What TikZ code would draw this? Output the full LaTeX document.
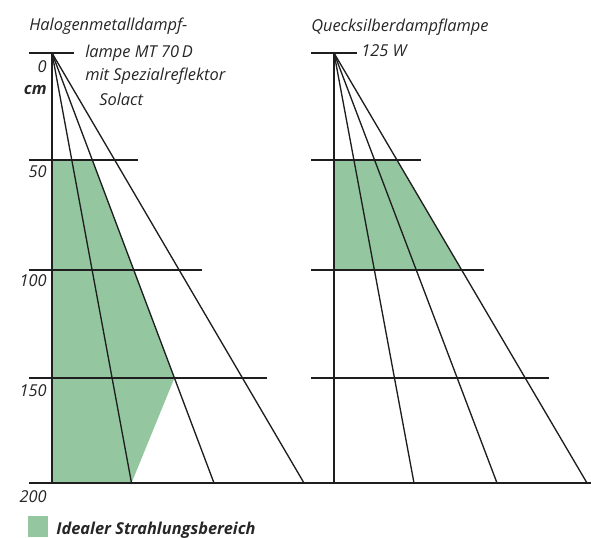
\documentclass[tikz,border=0pt]{standalone}
\usepackage{fontspec}
\setmainfont{Open Sans}
\usetikzlibrary{calc}
\definecolor{idealgreen}{RGB}{148,199,160}
\definecolor{linecol}{RGB}{30,30,30}
\tikzset{
  ln/.style={draw=linecol, line width=1pt},
  axis/.style={draw=linecol, line width=1.3pt},
  lbl/.style={font=\fontsize{12.3}{14}\selectfont\itshape, inner sep=0pt, text=black!85},
  num/.style={lbl, anchor=base east},
  zone/.style={fill=idealgreen, draw=none}
}
\begin{document}
\begin{tikzpicture}[x=0.75pt,y=-0.75pt]
\useasboundingbox (0,0) rectangle (591,537);
% ---------- coordinates left
\coordinate (LA) at (52,53);
\coordinate (LB0) at (52,483);
\coordinate (LB1) at (131.5,483);
\coordinate (LB2) at (214,483);
\coordinate (LB3) at (304,483);
% ---------- coordinates right
\coordinate (RA) at (334,53);
\coordinate (RB0) at (334,483);
\coordinate (RB1) at (414,483);
\coordinate (RB2) at (497,483);
\coordinate (RB3) at (587,483);
% ---------- green zones
\path[zone] (52,160) -- ($(LA)!0.2488!(LB2)$) -- ($(LA)!0.7558!(LB2)$) -- (LB1) -- (LB0) -- cycle;
\path[zone] (334,160) -- ($(RA)!0.2488!(RB3)$) -- ($(RA)!0.5047!(RB3)$) -- (334,270) -- cycle;
% ---------- horizontal lines
\coordinate (LT1) at (29,53); \coordinate (LT2) at (74,53);
\coordinate (LH1a) at (29,160); \coordinate (LH1b) at (138,160);
\coordinate (LH2a) at (29,270); \coordinate (LH2b) at (202,270);
\coordinate (LH3a) at (29,378); \coordinate (LH3b) at (267,378);
\coordinate (BLa) at (29,483); \coordinate (BLb) at (591,483);
\coordinate (RT1) at (311,53); \coordinate (RT2) at (357,53);
\coordinate (RH1a) at (311,160); \coordinate (RH1b) at (421,160);
\coordinate (RH2a) at (311,270); \coordinate (RH2b) at (484,270);
\coordinate (RH3a) at (311,378); \coordinate (RH3b) at (549,378);
\draw[ln] (LT1) -- (LT2);
\draw[ln] (LH1a) -- (LH1b);
\draw[ln] (LH2a) -- (LH2b);
\draw[ln] (LH3a) -- (LH3b);
\draw[ln] (RT1) -- (RT2);
\draw[ln] (RH1a) -- (RH1b);
\draw[ln] (RH2a) -- (RH2b);
\draw[ln] (RH3a) -- (RH3b);
\draw[ln] (BLa) -- (BLb);
% ---------- rays
\draw[axis] (LA) -- (LB0);
\draw[ln] (LA) -- (LB1);
\draw[ln] (LA) -- (LB2);
\draw[ln] (LA) -- (LB3);
\draw[axis] (RA) -- (RB0);
\draw[ln] (RA) -- (RB1);
\draw[ln] (RA) -- (RB2);
\draw[ln] (RA) -- (RB3);
% ---------- texts
\node[lbl, anchor=base west] (t1) at (29,30) {Halogenmetalldampf-};
\node[lbl, anchor=base west] (t2) at (85,57) {lampe MT 70\,D};
\node[lbl, anchor=base west] (t3) at (85,80) {mit Spezialreflektor};
\node[lbl, anchor=base west] (t4) at (99,105) {Solact};
\node[lbl, anchor=base west] (t5) at (311,31) {Quecksilberdampflampe};
\node[lbl, anchor=base west] (t6) at (361,56) {125 W};
\node[num] (n0) at (47,72.5) {0};
\node[num, font=\fontsize{12.3}{14}\selectfont\bfseries\itshape] (ncm) at (47,94) {cm};
\node[num] (n50) at (47,177) {50};
\node[num] (n100) at (47,286.5) {100};
\node[num] (n150) at (47,396) {150};
\node[num] (n200) at (47,502) {200};
% ---------- legend
\path[zone] (28,516) rectangle (48,537);
\node[lbl, anchor=base west, font=\fontsize{12.3}{14}\selectfont\bfseries\itshape] (leg) at (56,534) {Idealer Strahlungsbereich};
\end{tikzpicture}
\end{document}
